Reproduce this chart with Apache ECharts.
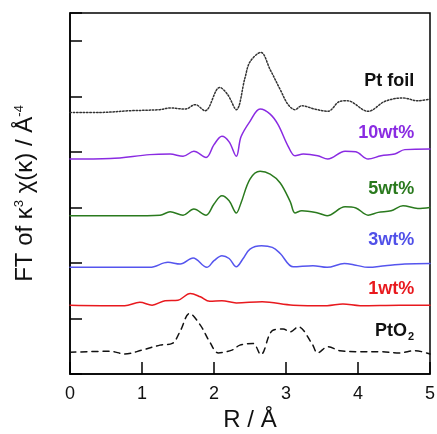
<!DOCTYPE html>
<html>
<head>
<meta charset="utf-8">
<script src="https://cdn.jsdelivr.net/npm/echarts@6/dist/echarts.min.js"></script>
<style>
  html, body { margin: 0; padding: 0; background: #fff; }
  #chart { width: 437px; height: 434px; }
</style>
</head>
<body>
<div id="chart"></div>
<script>
// Stacked FT-EXAFS magnitudes (offset per sample), R in Å
const ptFoil = [
  [0, 4.71], [0.42, 4.71], [0.83, 4.74], [1.25, 4.76], [1.39, 4.79], [1.6, 4.77],
  [1.74, 4.85], [1.875, 4.74], [2.08, 5.16], [2.19, 5.03], [2.31, 4.76], [2.43, 5.33],
  [2.5, 5.62], [2.65, 5.79], [2.78, 5.48], [2.92, 5.12], [3.03, 4.85], [3.125, 4.76],
  [3.22, 4.83], [3.4, 4.77], [3.58, 4.73], [3.75, 4.91], [3.85, 4.92], [4.14, 4.73],
  [4.375, 4.91], [4.625, 4.97], [4.83, 4.92], [5, 4.95]
];
const wt10 = [
  [0, 3.87], [0.56, 3.88], [1.11, 3.95], [1.39, 3.96], [1.57, 3.92], [1.72, 4.01],
  [1.89, 3.9], [2.0, 4.13], [2.11, 4.28], [2.21, 4.18], [2.31, 3.92], [2.375, 4.27],
  [2.5, 4.55], [2.64, 4.77], [2.78, 4.68], [2.89, 4.49], [3.03, 4.1], [3.125, 3.93],
  [3.24, 3.96], [3.44, 3.93], [3.58, 3.87], [3.82, 4.01], [3.97, 4.0], [4.14, 3.87],
  [4.32, 3.93], [4.51, 3.96], [4.65, 4.04], [5, 4.05]
];
const wt5 = [
  [0, 2.85], [0.83, 2.85], [1.25, 2.86], [1.39, 2.92], [1.57, 2.86], [1.72, 2.97],
  [1.89, 2.86], [2.0, 3.06], [2.11, 3.21], [2.21, 3.12], [2.31, 2.9], [2.375, 3.08],
  [2.5, 3.51], [2.64, 3.65], [2.78, 3.6], [2.92, 3.44], [3.06, 3.1], [3.125, 2.9],
  [3.22, 2.94], [3.44, 2.9], [3.57, 2.85], [3.82, 3.01], [3.97, 2.99], [4.14, 2.86],
  [4.28, 2.91], [4.46, 2.94], [4.625, 3.03], [4.83, 2.98], [5, 3.0]
];
const wt3 = [
  [0, 1.92], [1.11, 1.92], [1.36, 2.01], [1.53, 1.98], [1.71, 2.09], [1.9, 1.92],
  [2.0, 2.04], [2.11, 2.13], [2.21, 2.08], [2.31, 1.93], [2.4, 2.07], [2.5, 2.25],
  [2.66, 2.31], [2.81, 2.28], [2.92, 2.17], [3.1, 1.93], [3.375, 1.95], [3.57, 1.92],
  [3.81, 1.99], [3.97, 1.96], [4.14, 1.92], [4.375, 1.95], [4.65, 1.98], [5, 1.99]
];
const wt1 = [
  [0, 1.24], [0.76, 1.23], [0.97, 1.29], [1.14, 1.24], [1.32, 1.32], [1.5, 1.33],
  [1.67, 1.45], [1.81, 1.39], [1.94, 1.31], [2.11, 1.32], [2.31, 1.28], [2.67, 1.3],
  [3.1, 1.24], [3.57, 1.23], [3.79, 1.26], [4.03, 1.23], [4.58, 1.24], [5, 1.24]
];
const ptO2 = [
  [0, 0.39], [0.56, 0.41], [0.76, 0.36], [1.0, 0.43], [1.25, 0.52], [1.42, 0.55],
  [1.53, 0.77], [1.66, 1.09], [1.81, 0.88], [1.94, 0.58], [2.06, 0.38], [2.25, 0.43],
  [2.36, 0.52], [2.54, 0.55], [2.65, 0.35], [2.81, 0.78], [2.96, 0.81], [3.06, 0.76],
  [3.17, 0.85], [3.36, 0.55], [3.44, 0.38], [3.58, 0.49], [3.75, 0.42], [4.03, 0.4],
  [4.31, 0.4], [4.58, 0.38], [4.79, 0.42], [5, 0.36]
];
const xTicks = [0, 1, 2, 3, 4, 5];

// Sample labels, anchored in data space (right edge, vertical centre)
const sampleLabels = [
  { text: 'Pt foil', color: '#111111', at: [4.78, 5.27] },
  { text: '10wt%', color: '#8A2BE2', at: [4.78, 4.34] },
  { text: '5wt%', color: '#2A7A1E', at: [4.78, 3.33] },
  { text: '3wt%', color: '#5050E8', at: [4.78, 2.41] },
  { text: '1wt%', color: '#E8191E', at: [4.78, 1.53] },
  { text: 'PtO', sub: '2', color: '#111111', at: [4.78, 0.78] }
];

const chart = echarts.init(document.getElementById('chart'));
const font = 'Liberation Sans, Arial, sans-serif';

function line(name, data, color, type) {
  return {
    name, type: 'line', data, smooth: 0.35, symbol: 'none', silent: true,
    lineStyle: { color, width: 1.5, type: type || 'solid', cap: 'round' }
  };
}

chart.setOption({
  animation: false,
  backgroundColor: '#ffffff',
  grid: {
    left: 70, right: 7, top: 13, bottom: 60, outerBoundsMode: 'none',
    show: true, borderColor: '#000', borderWidth: 1.5
  },
  xAxis: {
    type: 'value', min: xTicks[0], max: xTicks[xTicks.length - 1], interval: 1,
    name: 'R / Å', nameLocation: 'middle', nameGap: 34,
    nameTextStyle: { fontFamily: font, fontSize: 24, color: '#111' },
    axisLine: { lineStyle: { color: '#000', width: 1.5 } },
    axisTick: { inside: true, length: 12, lineStyle: { color: '#000', width: 1.5 } },
    axisLabel: { fontFamily: font, fontSize: 18, color: '#111', margin: 11 },
    splitLine: { show: false }
  },
  yAxis: {
    type: 'value', min: 0, max: 6.5, interval: 1,
    name: '{t|FT of κ}{sup|3}{t| χ(κ) / Å}{sup|-4}',
    nameLocation: 'middle', nameRotate: 90, nameGap: 33,
    nameTextStyle: {
      fontFamily: font, fontSize: 24, color: '#111',
      rich: {
        t: { fontFamily: font, fontSize: 24, color: '#111' },
        sup: { fontFamily: font, fontSize: 13, color: '#111', verticalAlign: 'top', padding: [0, 0, 10, 0] }
      }
    },
    axisLine: { lineStyle: { color: '#000', width: 1.5 } },
    axisTick: { inside: true, length: 12, lineStyle: { color: '#000', width: 1.5 } },
    axisLabel: { show: false },
    splitLine: { show: false }
  },
  series: [
    line('Pt foil', ptFoil, '#333333', [1.5, 1.8]),
    line('10wt%', wt10, '#8A2BE2'),
    line('5wt%', wt5, '#2A7A1E'),
    line('3wt%', wt3, '#5555EE'),
    line('1wt%', wt1, '#E8191E'),
    line('PtO2', ptO2, '#111111', [6, 5])
  ]
});

// Place the sample labels next to their curves
const graphic = sampleLabels.map(l => {
  const p = chart.convertToPixel({ gridIndex: 0 }, l.at);
  const rich = {
    a: { fontFamily: font, fontSize: 18, fontWeight: 'bold', fill: l.color },
    s: { fontFamily: font, fontSize: 11, fontWeight: 'bold', fill: l.color, padding: [12, 0, 0, 1] }
  };
  return {
    type: 'text', x: p[0], y: p[1], silent: true,
    style: {
      text: l.sub ? '{a|' + l.text + '}{s|' + l.sub + '}' : '{a|' + l.text + '}',
      rich, align: 'right', verticalAlign: 'middle'
    }
  };
});
chart.setOption({ graphic });
</script>
</body>
</html>
